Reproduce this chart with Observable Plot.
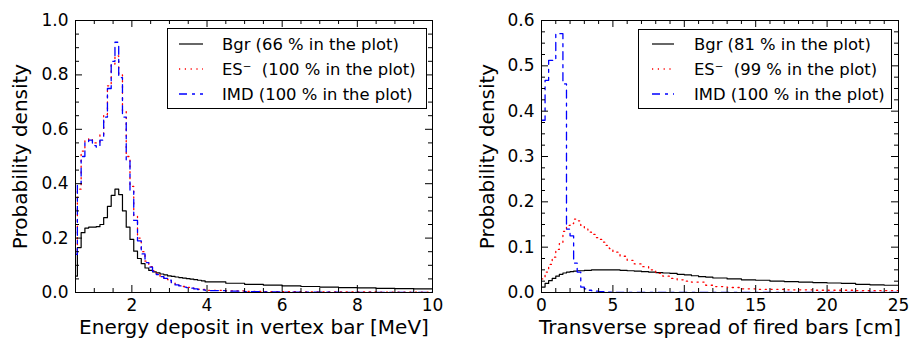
<!DOCTYPE html>
<html>
<head>
<meta charset="utf-8">
<script src="https://cdn.jsdelivr.net/npm/d3@7"></script>
<script src="https://cdn.jsdelivr.net/npm/@observablehq/plot@0.6"></script>
<style>
  html, body { margin: 0; padding: 0; background: #fff; }
  body { font-family: "DejaVu Sans", sans-serif; }
  #wrap { position: relative; width: 912px; height: 341px; overflow: hidden; }
  .panel { position: absolute; top: 0; }
  .legend { position: absolute; border: 1px solid #000; background: #fff; box-sizing: border-box; }
  .row { position: absolute; left: 0; height: 20px; display: flex; align-items: center; white-space: pre; font-size: 16.4px; color: #000; }
  .row svg { display: block; }
</style>
</head>
<body>
<div id="wrap"></div>
<script>
// ---------------- data ----------------
const seriesNames = ["Bgr", "ES\u207B ", "IMD"];

// Left panel: energy deposit in vertex bar [MeV]
const energyEdges = [0.5, 0.55, 0.65, 0.75, 0.85, 0.95, 1.05, 1.15, 1.25, 1.35, 1.45, 1.55, 1.65, 1.75, 1.85, 1.95,
  2.05, 2.15, 2.25, 2.35, 2.45, 2.55, 2.65, 2.75, 2.85, 2.95, 3.05, 3.15, 3.25, 3.35, 3.45, 3.55, 3.65, 3.75, 3.85, 3.95,
  4.5, 5, 5.5, 6, 6.5, 7, 7.5, 8, 8.5, 9, 9.5, 10];
const energyBgr = [0.06, 0.165, 0.22, 0.237, 0.24, 0.24, 0.242, 0.25, 0.275, 0.317,
  0.357, 0.38, 0.36, 0.30, 0.24, 0.195, 0.152, 0.125, 0.106, 0.09,
  0.081, 0.076, 0.072, 0.068, 0.065, 0.061, 0.059, 0.057, 0.055, 0.053,
  0.051, 0.049, 0.047, 0.045, 0.043, 0.039, 0.034, 0.030, 0.027, 0.024,
  0.022, 0.020, 0.018, 0.017, 0.015, 0.014, 0.013];
const energyES = [0.14, 0.38, 0.52, 0.56, 0.565, 0.55, 0.55, 0.58, 0.655, 0.76,
  0.84, 0.87, 0.80, 0.665, 0.50, 0.39, 0.28, 0.20, 0.15, 0.115,
  0.095, 0.08, 0.07, 0.06, 0.053, 0.047, 0.038, 0.031, 0.026, 0.022,
  0.019, 0.016, 0.014, 0.012, 0.011, 0.008, 0.006, 0.004, 0.003, 0.003,
  0.002, 0.002, 0.002, 0.002, 0.001, 0.001, 0.001];
const energyIMD = [0.14, 0.40, 0.50, 0.55, 0.56, 0.54, 0.535, 0.56, 0.645, 0.75,
  0.85, 0.92, 0.79, 0.645, 0.485, 0.375, 0.265, 0.19, 0.142, 0.11,
  0.093, 0.078, 0.066, 0.058, 0.052, 0.045, 0.035, 0.028, 0.024, 0.02,
  0.018, 0.016, 0.013, 0.011, 0.01, 0.007, 0.005, 0.003, 0.002, 0.001,
  0.001, 0.001, 0, 0, 0, 0, 0];
const energyShares = [66, 100, 100];
const energyXTicks = [2, 4, 6, 8, 10];
const energyYTicks = [0, 0.2, 0.4, 0.6, 0.8, 1.0];

// Right panel: transverse spread of fired bars [cm]
const spreadEdges = [0, 0.25, 0.5, 0.75, 1, 1.25, 1.5, 1.75, 2, 2.25, 2.5, 2.75, 3, 3.25, 3.5, 3.75, 4, 4.25, 4.5, 4.75, 5,
  5.5, 6, 6.5, 7, 7.5, 8, 8.5, 9, 9.5, 10, 10.5, 11, 11.5, 12,
  13, 14, 15, 16, 17, 18, 19, 20, 21, 22, 23, 24, 25];
const spreadBgr = [0.012, 0.02, 0.026, 0.031, 0.036, 0.04, 0.043, 0.045, 0.046, 0.047,
  0.048, 0.048, 0.049, 0.049, 0.05, 0.05, 0.05, 0.05, 0.05, 0.05,
  0.05, 0.049, 0.048, 0.047, 0.046, 0.045, 0.044, 0.043, 0.042, 0.040,
  0.039, 0.037, 0.035, 0.034, 0.032, 0.030, 0.028, 0.027, 0.025, 0.024,
  0.023, 0.022, 0.021, 0.02, 0.018, 0.017, 0.016];
const spreadES = [0.03, 0.045, 0.062, 0.078, 0.095, 0.108, 0.135, 0.148, 0.152, 0.162,
  0.158, 0.148, 0.14, 0.133, 0.128, 0.121, 0.117, 0.111, 0.104, 0.097,
  0.089, 0.08, 0.071, 0.063, 0.057, 0.05, 0.042, 0.036, 0.031, 0.028,
  0.025, 0.023, 0.023, 0.016, 0.013, 0.011, 0.008, 0.007, 0.007, 0.006,
  0.006, 0.005, 0.005, 0.005, 0.004, 0.004, 0.004];
const spreadIMD = [0.38, 0.468, 0.512, 0.512, 0.571, 0.571, 0.46, 0.14, 0.125, 0.065,
  0.045, 0.012, 0.008, 0.005, 0.004, 0.003, 0.002, 0.002, 0.001, 0.001,
  0, 0, 0, 0, 0, 0, 0, 0, 0, 0,
  0, 0, 0, 0, 0, 0, 0, 0, 0, 0,
  0, 0, 0, 0, 0, 0, 0];
const spreadShares = [81, 99, 100];
const spreadXTicks = [0, 5, 10, 15, 20, 25];
const spreadYTicks = [0, 0.1, 0.2, 0.3, 0.4, 0.5, 0.6];

// ---------------- styles ----------------
const styles = [
  {stroke: "#000000", strokeWidth: 1.2, dash: null},
  {stroke: "#ff0000", strokeWidth: 1.3, dash: "1.2,4.6"},
  {stroke: "#0000ff", strokeWidth: 1.3, dash: "8,5,3,5"}
];
const FONT = "DejaVu Sans";
const H = 341, MT = 20, MB = 49;
const INNER_H = H - MT - MB;

function stepPoints(edges, values) {
  const pts = values.map((v, i) => ({x: edges[i], y: v}));
  pts.push({x: edges[edges.length - 1], y: values[values.length - 1]});
  return pts;
}

function panel({width, ml, mr, xDomain, yDomain, xTicks, xMinorStep, yTicks, yMinorStep, yFormat, series, xLabel, yLabelDx}) {
  const innerW = width - ml - mr;
  const xMinor = d3.range(xDomain[0], xDomain[1] + 1e-9, xMinorStep).filter(v => !xTicks.some(t => Math.abs(t - v) < 1e-9));
  const yMinor = d3.range(yDomain[0], yDomain[1] + 1e-9, yMinorStep).filter(v => !yTicks.some(t => Math.abs(t - v) < 1e-9));
  const major = 7, minor = 4;
  const marks = [];
  series.forEach((vals, i) => {
    const st = styles[i];
    marks.push(Plot.line(stepPoints(series.edges, vals), {
      x: "x", y: "y", curve: "step-after",
      stroke: st.stroke, strokeWidth: st.strokeWidth, strokeDasharray: st.dash, clip: true
    }));
  });
  marks.push(
    Plot.ruleX(xTicks, {insetTop: INNER_H - major, stroke: "#000"}),
    Plot.ruleX(xTicks, {insetBottom: INNER_H - major, stroke: "#000"}),
    Plot.ruleX(xMinor, {insetTop: INNER_H - minor, stroke: "#000"}),
    Plot.ruleX(xMinor, {insetBottom: INNER_H - minor, stroke: "#000"}),
    Plot.ruleY(yTicks, {insetRight: innerW - major, stroke: "#000"}),
    Plot.ruleY(yTicks, {insetLeft: innerW - major, stroke: "#000"}),
    Plot.ruleY(yMinor, {insetRight: innerW - minor, stroke: "#000"}),
    Plot.ruleY(yMinor, {insetLeft: innerW - minor, stroke: "#000"}),
    Plot.frame({stroke: "#000", strokeWidth: 1}),
    Plot.axisX(xTicks, {tickSize: 0, tickPadding: 6, fontSize: 17, tickFormat: d => String(d), label: null, fill: "#000"}),
    Plot.axisY(yTicks, {tickSize: 0, tickPadding: 7, fontSize: 17, tickFormat: yFormat, label: null, fill: "#000"}),
    Plot.text([xLabel], {frameAnchor: "bottom", dy: 41, fontSize: 20, textAnchor: "middle", fill: "#000"}),
    Plot.text(["Probability density"], {frameAnchor: "left", dx: yLabelDx, rotate: -90, fontSize: 20, textAnchor: "middle", fill: "#000"})
  );
  return Plot.plot({
    width, height: H,
    marginLeft: ml, marginRight: mr, marginTop: MT, marginBottom: MB,
    style: {fontFamily: FONT, background: "#fff", overflow: "visible"},
    x: {domain: xDomain, axis: null},
    y: {domain: yDomain, axis: null},
    marks
  });
}

const energySeries = [energyBgr, energyES, energyIMD];
energySeries.edges = energyEdges;
const spreadSeries = [spreadBgr, spreadES, spreadIMD];
spreadSeries.edges = spreadEdges;

const wrap = document.getElementById("wrap");
const left = panel({
  width: 456, ml: 75, mr: 24,
  xDomain: [0.5, 10], yDomain: [0, 1.0],
  xTicks: energyXTicks, xMinorStep: 0.5,
  yTicks: energyYTicks, yMinorStep: 0.05, yFormat: d3.format(".1f"),
  series: energySeries, xLabel: "Energy deposit in vertex bar [MeV]", yLabelDx: -55
});
left.classList.add("panel");
left.style.left = "0px";
wrap.appendChild(left);

const right = panel({
  width: 456, ml: 85, mr: 14,
  xDomain: [0, 25], yDomain: [0, 0.6],
  xTicks: spreadXTicks, xMinorStep: 1,
  yTicks: spreadYTicks, yMinorStep: 0.025, yFormat: d3.format(".1f"),
  series: spreadSeries, xLabel: "Transverse spread of fired bars [cm]", yLabelDx: -54
});
right.classList.add("panel");
right.style.left = "456px";
wrap.appendChild(right);

// ---------------- legends ----------------
function legend(box, shares) {
  const div = document.createElement("div");
  div.className = "legend";
  div.style.left = box.left + "px";
  div.style.top = box.top + "px";
  div.style.width = box.width + "px";
  div.style.height = box.height + "px";
  seriesNames.forEach((name, i) => {
    const st = styles[i];
    const row = document.createElement("div");
    row.className = "row";
    row.style.top = (box.rowY[i] - box.top - 10) + "px";
    row.style.left = (box.sampleX - box.left) + "px";
    const svg = d3.create("svg").attr("width", box.textX - box.sampleX).attr("height", 20);
    svg.append("line").attr("x1", 0).attr("x2", box.sampleW).attr("y1", 10).attr("y2", 10)
      .attr("stroke", st.stroke).attr("stroke-width", st.strokeWidth)
      .attr("stroke-dasharray", st.dash);
    row.appendChild(svg.node());
    const span = document.createElement("span");
    span.textContent = `${name} (${shares[i]} % in the plot)`;
    row.appendChild(span);
    div.appendChild(row);
  });
  wrap.appendChild(div);
}
legend({left: 167, top: 28, width: 260, height: 81, sampleX: 178, sampleW: 24, textX: 221, rowY: [43.3, 68.3, 93.3]}, energyShares);
legend({left: 638, top: 29, width: 254, height: 80, sampleX: 651, sampleW: 22, textX: 693, rowY: [43.3, 68.3, 93.3]}, spreadShares);
</script>
</body>
</html>
